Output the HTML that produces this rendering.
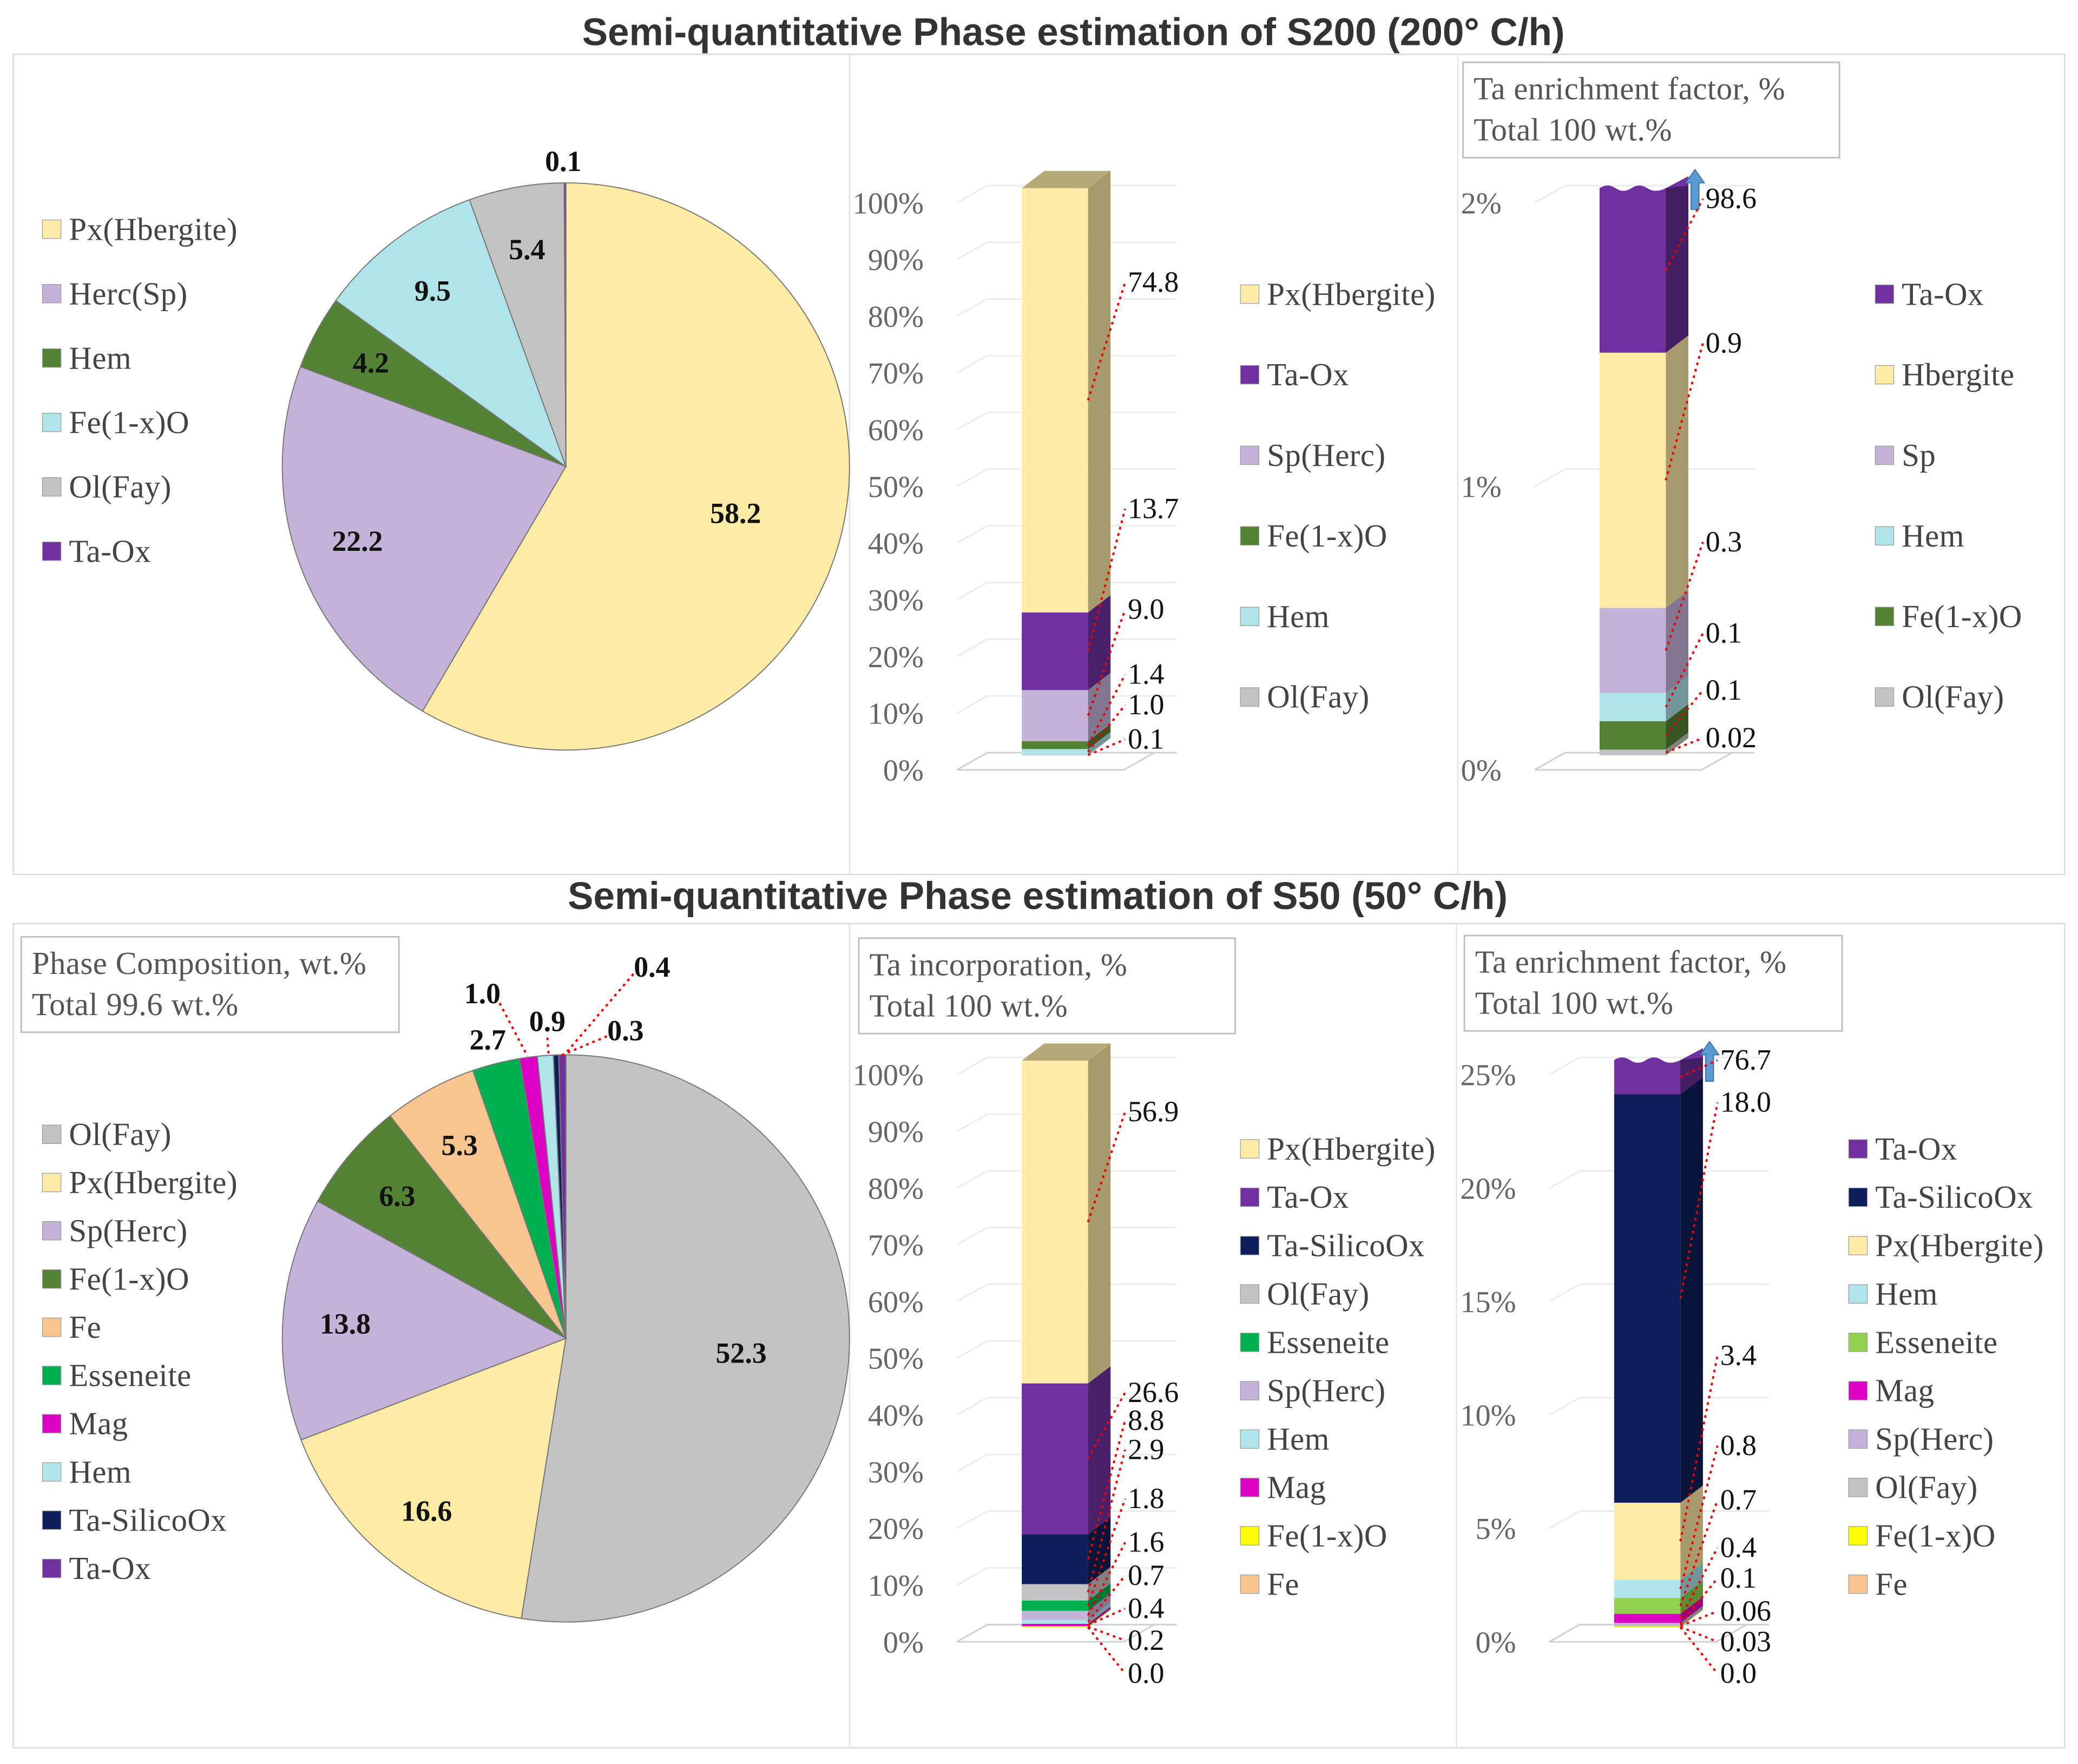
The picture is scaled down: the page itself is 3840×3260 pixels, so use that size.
<!DOCTYPE html>
<html><head><meta charset="utf-8"><style>
html,body{margin:0;padding:0;background:#fff;}
svg{display:block;}
</style></head><body>
<svg id="fig" width="3840" height="3260" viewBox="0 0 1568 1331.2" xmlns="http://www.w3.org/2000/svg">
<rect x="0" y="0" width="1568" height="1332" fill="#fff"/>
<text x="810" y="34" text-anchor="middle" style="font-family:'Liberation Sans',sans-serif" font-weight="bold" font-size="29" fill="#333">Semi-quantitative Phase estimation of S200 (200° C/h)</text>
<text x="783" y="686" text-anchor="middle" style="font-family:'Liberation Sans',sans-serif" font-weight="bold" font-size="29" fill="#333">Semi-quantitative Phase estimation of S50 (50° C/h)</text>
<rect x="10" y="41" width="1548" height="619" fill="none" stroke="#d9d9d9" stroke-width="1"/>
<rect x="10" y="697" width="1548" height="622" fill="none" stroke="#d9d9d9" stroke-width="1"/>
<line x1="641" y1="41" x2="641" y2="660" stroke="#e3e3e3"/><line x1="1100" y1="41" x2="1100" y2="660" stroke="#e3e3e3"/>
<line x1="641" y1="697" x2="641" y2="1319" stroke="#e3e3e3"/><line x1="1099" y1="697" x2="1099" y2="1319" stroke="#e3e3e3"/>
<g id="root"></g>
</svg>
<script>
// ---- data ----
const C = {px:'#FDEBA6',herc:'#C4B2D9',hem:'#AEE4EA',fe1x:'#548235',ol:'#C3C3C3',taox:'#7030A0',tasil:'#0D1E5A',ess:'#00B050',mag:'#DD00C4',fe:'#F8C590',yel:'#FFFF00',lg:'#92D050'};
// S200 pie
const pie1Labels = ['Px(Hbergite)','Herc(Sp)','Hem','Fe(1-x)O','Ol(Fay)','Ta-Ox'];
const pie1Values = [58.2,22.2,4.2,9.5,5.4,0.1];
const pie1Colors = [C.px,C.herc,C.fe1x,C.hem,C.ol,C.taox];
// S200 Ta incorporation (bottom -> top)
const bar1Cats = ['Ol(Fay)','Hem','Fe(1-x)O','Sp(Herc)','Ta-Ox','Px(Hbergite)'];
const bar1Values = [0.1,1.0,1.4,9.0,13.7,74.8];
const bar1Colors = [C.ol,C.hem,C.fe1x,C.herc,C.taox,C.px];
const bar1Legend = ['Px(Hbergite)','Ta-Ox','Sp(Herc)','Fe(1-x)O','Hem','Ol(Fay)'];
const bar1LegendColors = [C.px,C.taox,C.herc,C.fe1x,C.hem,C.ol];
const bar1Ticks = ['0%','10%','20%','30%','40%','50%','60%','70%','80%','90%','100%'];
// S200 enrichment
const enr1Cats = ['Ol(Fay)','Fe(1-x)O','Hem','Sp','Hbergite','Ta-Ox'];
const enr1Values = [0.02,0.1,0.1,0.3,0.9,98.6];
const enr1Colors = [C.ol,C.fe1x,C.hem,C.herc,C.px,C.taox];
const enr1Legend = ['Ta-Ox','Hbergite','Sp','Hem','Fe(1-x)O','Ol(Fay)'];
const enr1LegendColors = [C.taox,C.px,C.herc,C.hem,C.fe1x,C.ol];
const enr1Ticks = ['0%','1%','2%'];
// S50 pie
const pie2Labels = ['Ol(Fay)','Px(Hbergite)','Sp(Herc)','Fe(1-x)O','Fe','Esseneite','Mag','Hem','Ta-SilicoOx','Ta-Ox'];
const pie2Values = [52.3,16.6,13.8,6.3,5.3,2.7,1.0,0.9,0.3,0.4];
const pie2Colors = [C.ol,C.px,C.herc,C.fe1x,C.fe,C.ess,C.mag,C.hem,C.tasil,C.taox];
// S50 Ta incorporation
const bar2Cats = ['Fe','Fe(1-x)O','Mag','Hem','Sp(Herc)','Esseneite','Ol(Fay)','Ta-SilicoOx','Ta-Ox','Px(Hbergite)'];
const bar2Values = [0.0,0.2,0.4,0.7,1.6,1.8,2.9,8.8,26.6,56.9];
const bar2Colors = [C.fe,C.yel,C.mag,C.hem,C.herc,C.ess,C.ol,C.tasil,C.taox,C.px];
const bar2Legend = ['Px(Hbergite)','Ta-Ox','Ta-SilicoOx','Ol(Fay)','Esseneite','Sp(Herc)','Hem','Mag','Fe(1-x)O','Fe'];
const bar2LegendColors = [C.px,C.taox,C.tasil,C.ol,C.ess,C.herc,C.hem,C.mag,C.yel,C.fe];
// S50 enrichment
const enr2Cats = ['Fe','Fe(1-x)O','Ol(Fay)','Sp(Herc)','Mag','Esseneite','Hem','Px(Hbergite)','Ta-SilicoOx','Ta-Ox'];
const enr2Values = [0.0,0.03,0.06,0.1,0.4,0.7,0.8,3.4,18.0,76.7];
const enr2Colors = [C.fe,C.yel,C.ol,C.herc,C.mag,C.lg,C.hem,C.px,C.tasil,C.taox];
const enr2Legend = ['Ta-Ox','Ta-SilicoOx','Px(Hbergite)','Hem','Esseneite','Mag','Sp(Herc)','Ol(Fay)','Fe(1-x)O','Fe'];
const enr2LegendColors = [C.taox,C.tasil,C.px,C.hem,C.lg,C.mag,C.herc,C.ol,C.yel,C.fe];
const enr2Ticks = ['0%','5%','10%','15%','20%','25%'];

const NS='http://www.w3.org/2000/svg';
const root=document.getElementById('root');
const SERIF="font-family:'Liberation Serif',serif";
function el(tag,attrs,parent){const e=document.createElementNS(NS,tag);for(const k in attrs)e.setAttribute(k,attrs[k]);(parent||root).appendChild(e);return e;}
function txt(s,attrs,parent){const e=el('text',attrs,parent);e.setAttribute('style',SERIF+(attrs.ls?';letter-spacing:'+attrs.ls+'px':''));e.textContent=s;return e;}
function darken(hex,f){const n=parseInt(hex.slice(1),16);let r=n>>16,g=(n>>8)&255,b=n&255;return 'rgb('+Math.round(r*f)+','+Math.round(g*f)+','+Math.round(b*f)+')';}

function pie(cx,cy,r,vals,cols,names,prefix){
  const tot=vals.reduce((a,b)=>a+b,0);let a=0;
  vals.forEach((v,i)=>{
    const a0=a/tot*2*Math.PI;a+=v;const a1=a/tot*2*Math.PI;
    const x0=cx+r*Math.sin(a0),y0=cy-r*Math.cos(a0),x1=cx+r*Math.sin(a1),y1=cy-r*Math.cos(a1);
    const p=el('path',{d:`M${cx},${cy}L${x0},${y0}A${r},${r} 0 ${a1-a0>Math.PI?1:0} 1 ${x1},${y1}Z`,fill:cols[i],stroke:'#777','stroke-width':0.8});
    
    
    if(v>=4){const m=(a0+a1)/2;const rr=v>40?0.62:0.78;const t=txt(v.toFixed(1),{x:cx+r*rr*Math.sin(m),y:cy-r*rr*Math.cos(m)+8,'text-anchor':'middle','font-weight':'bold','font-size':22,fill:'#111'});
      }
  });
}
function legend(x,ys,names,cols,prefix){
  names.forEach((n,i)=>{const g=el('g',{});
    
    el('rect',{x:x,y:ys[i]-8,width:14,height:14,fill:cols[i],stroke:'#999','stroke-width':0.5},g);
    txt(n,{x:x+20,y:ys[i]+7,'font-size':24,fill:'#444',ls:0.2},g);});
}
function ylist(y0,step,n){const a=[];for(let i=0;i<n;i++)a.push(y0+i*step);return a;}
function bar3d(o){
  const {y0,y1,max,ticks,vals,cols,prefix,labelYs,trunc}=o;
  const X=771,W=50,D=17,H=13,base=y0-11;
  const sc=v=>(y0-y1)*v/max;
  ticks.forEach((t,i)=>{const y=y0-(y0-y1)*i/(ticks.length-1);
    const g=el('g',{});
    el('polyline',{points:`${722},${y} ${745},${y-13} ${888},${y-13}`,fill:'none',stroke:i==0?'#d0d0d0':'#ececec','stroke-width':1.2},g);
    const tt=txt(t,{x:697,y:y+8,'text-anchor':'end','font-size':23,fill:'#666'});
    });
  el('polyline',{points:`722,${y0} 848,${y0} 871,${y0-13}`,fill:'none',stroke:'#d0d0d0','stroke-width':1.2});
  let cum=0;const mids=[];
  vals.forEach((v,i)=>{
    let yb=base-sc(cum);cum+=v;let yt=base-sc(Math.min(cum,max));
    mids.push((yb+yt)/2);
    if(yb-yt<=0.01){return;}
    const g=el('g',{});
    if(trunc&&cum>max){
      el('path',{d:`M${X},${yb}L${X},${yt}q6,-4 12,0t12,0t12,0t14,0L${X+W+D},${yt-H+4}L${X+W+D},${yb-H}L${X+W},${yb}Z`,fill:cols[i]},g);
      el('path',{d:`M${X+W},${yb}L${X+W},${yt}L${X+W+D},${yt-2}L${X+W+D},${yb-H}Z`,fill:darken(cols[i],0.62)},g);
    } else {
      el('rect',{x:X,y:yt,width:W,height:yb-yt,fill:cols[i]},g);
      el('path',{d:`M${X+W},${yb}L${X+W+D},${yb-H}L${X+W+D},${yt-H}L${X+W},${yt}Z`,fill:darken(cols[i],0.66)},g);
    }
    if(!trunc&&i==vals.length-1) el('path',{d:`M${X},${yt}L${X+D},${yt-H}L${X+W+D},${yt-H}L${X+W},${yt}Z`,fill:darken(cols[i],0.72)},g);
  });
  if(trunc){const ax=X+W+D+5;const a=el('path',{d:`M${ax-3},${y1+5}L${ax-3},${y1-15}L${ax-7},${y1-15}L${ax},${y1-25}L${ax+7},${y1-15}L${ax+3},${y1-15}L${ax+3},${y1+5}Z`,fill:'#5B9BD5',stroke:'#41719C','stroke-width':0.8});
    }
  vals.forEach((v,i)=>{
    const ly=labelYs[vals.length-1-i];
    const s=(v<0.1&&v>0)?String(v):v.toFixed(1);
    el('polyline',{points:`${X+W},${mids[i]} ${X+W+28},${ly-7}`,fill:'none',stroke:'#e00','stroke-width':1.6,'stroke-dasharray':'2,3'});
    const t=txt(s,{x:X+W+30,y:ly,'font-size':22,fill:'#111'});
    
  });
}
function box(x,y,w,h,l1,l2,name){const g=el('g',{});
  el('rect',{x:x,y:y,width:w,height:h,fill:'#fff',stroke:'#bfbfbf','stroke-width':1.2},g);
  txt(l1,{x:x+8,y:y+28,'font-size':24,fill:'#555',ls:0.2},g);
  txt(l2,{x:x+8,y:y+59,'font-size':24,fill:'#555',ls:0.2},g);}
function renderInto(g,fn){const before=root.childNodes.length;fn();while(root.childNodes.length>before){g.appendChild(root.childNodes[before]);}}

// ===== S200 =====
pie(427,352,214,pie1Values,pie1Colors,pie1Labels,'pie-s200');
txt('0.1',{x:425,y:129,'text-anchor':'middle','font-weight':'bold','font-size':22,fill:'#111'});
legend(32,ylist(174,48.6,6),pie1Labels,pie1Colors,'pie-s200');
bar3d({y0:581,y1:153,max:100,ticks:bar1Ticks,vals:bar1Values,cols:bar1Colors,prefix:'ta-incorp-s200',labelYs:[220,391,467,516,539,565]});
legend(936,ylist(223,60.8,6),bar1Legend,bar1LegendColors,'ta-incorp-s200');
box(1104,47,284,72,'Ta enrichment factor, %','Total 100 wt.%','enrichment-s200-box');
const gE1=el('g',{transform:'translate(436,0)'});


renderInto(gE1,()=>bar3d({y0:581,y1:153,max:2,ticks:enr1Ticks,vals:enr1Values,cols:enr1Colors,prefix:'enrichment-s200',labelYs:[157,266,416,485,528,564],trunc:true}));
legend(1415,ylist(223,60.8,6),enr1Legend,enr1LegendColors,'enrichment-s200');

// ===== S50 =====
pie(427,1010,214,pie2Values,pie2Colors,pie2Labels,'pie-s50');
const smallLbl=[['2.7',368,792],['1.0',364,757],['0.9',413,778],['0.3',472,785],['0.4',492,737]];
smallLbl.forEach(s=>{const t=txt(s[0],{x:s[1],y:s[2],'text-anchor':'middle','font-weight':'bold','font-size':22,fill:'#111'});});
[[377,757,398,797],[413,783,414,796],[458,782,422,797],[478,735,425,797]].forEach(l=>el('line',{x1:l[0],y1:l[1],x2:l[2],y2:l[3],stroke:'#e00','stroke-width':1.6,'stroke-dasharray':'2,3'}));
box(16,707,285,72,'Phase Composition, wt.%','Total 99.6 wt.%','phase-composition-box');
legend(32,ylist(857,36.4,10),pie2Labels,pie2Colors,'pie-s50');
box(648,708,284,72,'Ta incorporation, %','Total 100 wt.%','ta-incorporation-box');
bar3d({y0:1239,y1:811,max:100,ticks:bar1Ticks,vals:bar2Values,cols:bar2Colors,prefix:'ta-incorp-s50',labelYs:[846,1058,1079,1101,1138,1171,1196,1221,1245,1270]});
legend(936,ylist(868,36.5,10),bar2Legend,bar2LegendColors,'ta-incorp-s50');
box(1105,706,285,72,'Ta enrichment factor, %','Total 100 wt.%','enrichment-s50-box');
const gE2=el('g',{transform:'translate(447,0)'});


renderInto(gE2,()=>bar3d({y0:1239,y1:811,max:25,ticks:enr2Ticks,vals:enr2Values,cols:enr2Colors,prefix:'enrichment-s50',labelYs:[807,839,1030,1098,1139,1175,1198,1223,1246,1270],trunc:true}));
legend(1395,ylist(868,36.5,10),enr2Legend,enr2LegendColors,'enrichment-s50');
</script>
</body></html>
